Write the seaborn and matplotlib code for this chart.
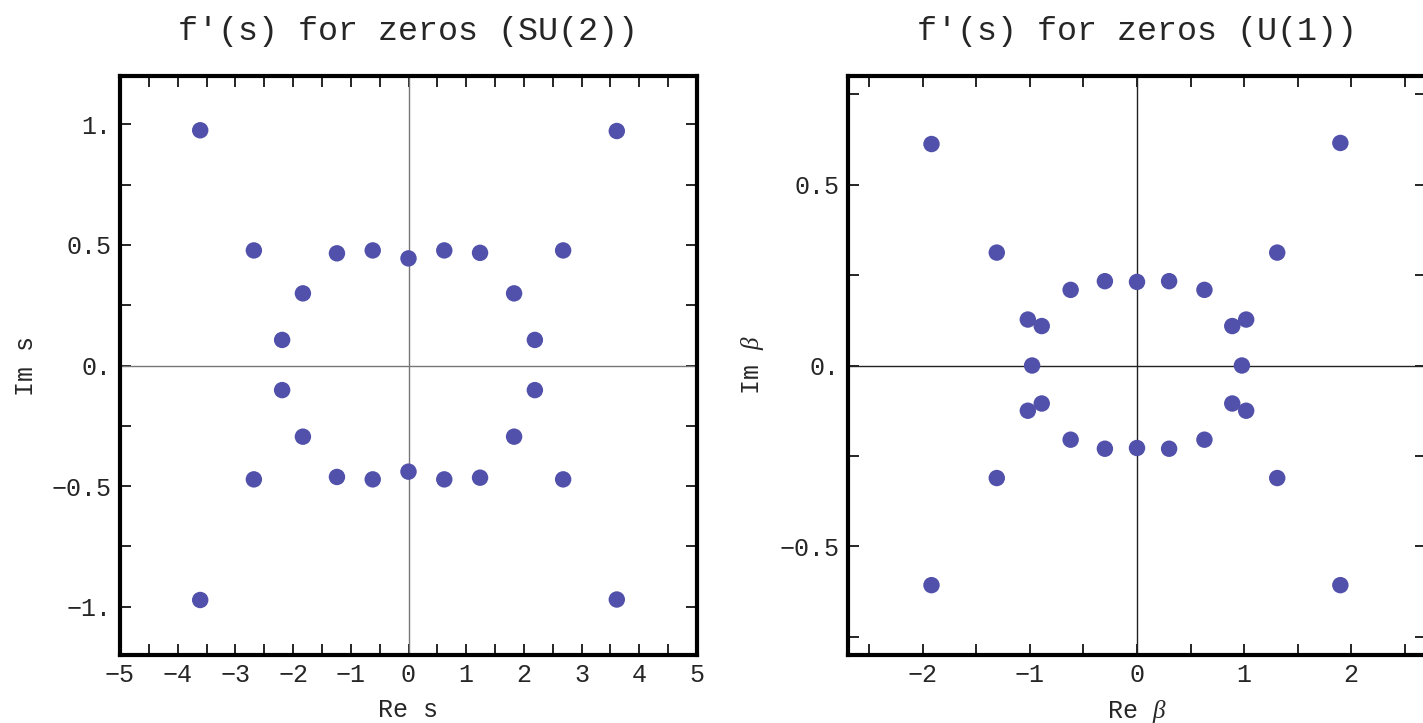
import matplotlib
matplotlib.use("Agg")
import matplotlib.pyplot as plt
from matplotlib.ticker import FixedLocator, FixedFormatter
import numpy as np
import pandas as pd
import seaborn as sns

# ---- data: SU(2) zeros of f'(s) ----
su2_re = [-3.61, 3.61, -2.68, 2.68, -1.24, -0.62, 0.00, 0.62, 1.24, -1.83, 1.83, -2.19, 2.19,
          -3.61, 3.61, -2.68, 2.68, -1.24, -0.62, 0.00, 0.62, 1.24, -1.83, 1.83, -2.19, 2.19]
su2_im = [0.975, 0.972, 0.477, 0.477, 0.465, 0.477, 0.444, 0.477, 0.467, 0.299, 0.299, 0.106, 0.106,
          -0.972, -0.970, -0.472, -0.472, -0.462, -0.472, -0.440, -0.472, -0.465, -0.295, -0.295, -0.102, -0.102]

# ---- data: U(1) zeros ----
u1_re = [-1.92, 1.90, -1.31, 1.31, -0.62, -0.30, 0.00, 0.30, 0.63, -1.02, -0.89, 0.89, 1.02,
         -0.98, 0.98,
         -1.92, 1.90, -1.31, 1.31, -0.62, -0.30, 0.00, 0.30, 0.63, -1.02, -0.89, 0.89, 1.02]
u1_im = [0.612, 0.615, 0.312, 0.312, 0.209, 0.233, 0.231, 0.233, 0.209, 0.127, 0.109, 0.109, 0.127,
         0.000, 0.000,
         -0.607, -0.607, -0.311, -0.311, -0.205, -0.230, -0.228, -0.230, -0.205, -0.125, -0.105, -0.105, -0.125]

# ticks
su2_xticks = [-5, -4, -3, -2, -1, 0, 1, 2, 3, 4, 5]
su2_xlabels = ["\u22125", "\u22124", "\u22123", "\u22122", "\u22121", "0", "1", "2", "3", "4", "5"]
su2_yticks = [-1.0, -0.5, 0.0, 0.5, 1.0]
su2_ylabels = ["\u22121.", "\u22120.5", "0.", "0.5", "1."]
u1_xticks = [-2, -1, 0, 1, 2]
u1_xlabels = ["\u22122", "\u22121", "0", "1", "2"]
u1_yticks = [-0.5, 0.0, 0.5]
u1_ylabels = ["\u22120.5", "0.", "0.5"]

titles = ["f'(s) for zeros (SU(2))", "f'(s) for zeros (U(1))"]

sns.set_style("white")
plt.rcParams['font.family'] = ['Liberation Mono', 'DejaVu Sans Mono']
plt.rcParams['mathtext.fontset'] = 'custom'
plt.rcParams['mathtext.it'] = 'Liberation Serif:italic'
plt.rcParams['mathtext.rm'] = 'Liberation Serif'

fig = plt.figure(figsize=(14.23, 7.23), dpi=100)
W, H = 1423, 723
ax1 = fig.add_axes([120 / W, 1 - 655 / H, (697 - 120) / W, (655 - 76) / H])
ax2 = fig.add_axes([848 / W, 1 - 655 / H, (1426 - 848) / W, (655 - 76) / H])

color = "#5151AB"
df1 = pd.DataFrame({"re": su2_re, "im": su2_im})
df2 = pd.DataFrame({"re": u1_re, "im": u1_im})

for ax, df, xl, yl, xt, xlab, yt, ylab, xminor, yminor, title, zc, xlabel, ylabel in [
    (ax1, df1, (-5, 5), (-1.2, 1.2), su2_xticks, su2_xlabels, su2_yticks, su2_ylabels,
     list(np.arange(-4.5, 5, 1.0)), [-0.75, -0.25, 0.25, 0.75], titles[0], "#777777", "Re s", "Im s"),
    (ax2, df2, (-2.7, 2.7), (-0.8, 0.8), u1_xticks, u1_xlabels, u1_yticks, u1_ylabels,
     [-2.5, -1.5, -0.5, 0.5, 1.5, 2.5], [-0.75, -0.25, 0.25, 0.75], titles[1], "#222222",
     "Re $\\beta$", "Im $\\beta$"),
]:
    ax.axhline(0, color=zc, lw=1.0, zorder=1)
    ax.axvline(0, color=zc, lw=1.0, zorder=1)
    sns.scatterplot(data=df, x="re", y="im", ax=ax, color=color, s=140, edgecolor="none",
                    linewidth=0, zorder=3, legend=False)
    ax.set_xlim(*xl)
    ax.set_ylim(*yl)
    ax.xaxis.set_major_locator(FixedLocator(xt))
    ax.xaxis.set_major_formatter(FixedFormatter(xlab))
    ax.yaxis.set_major_locator(FixedLocator(yt))
    ax.yaxis.set_major_formatter(FixedFormatter(ylab))
    ax.xaxis.set_minor_locator(FixedLocator(xminor))
    ax.yaxis.set_minor_locator(FixedLocator(yminor))
    ax.tick_params(which="both", direction="in", top=True, right=True, bottom=True, left=True,
                   length=8, width=1.2, color="black", labelsize=18, pad=6)
    for sp in ax.spines.values():
        sp.set_linewidth(3)
        sp.set_color("black")
    ax.set_xlabel(xlabel, fontsize=18, labelpad=8)
    ax.set_ylabel(ylabel, fontsize=18, labelpad=10)
    ax.set_title(title, fontsize=24, pad=26)

fig.savefig("out.png", dpi=100)
